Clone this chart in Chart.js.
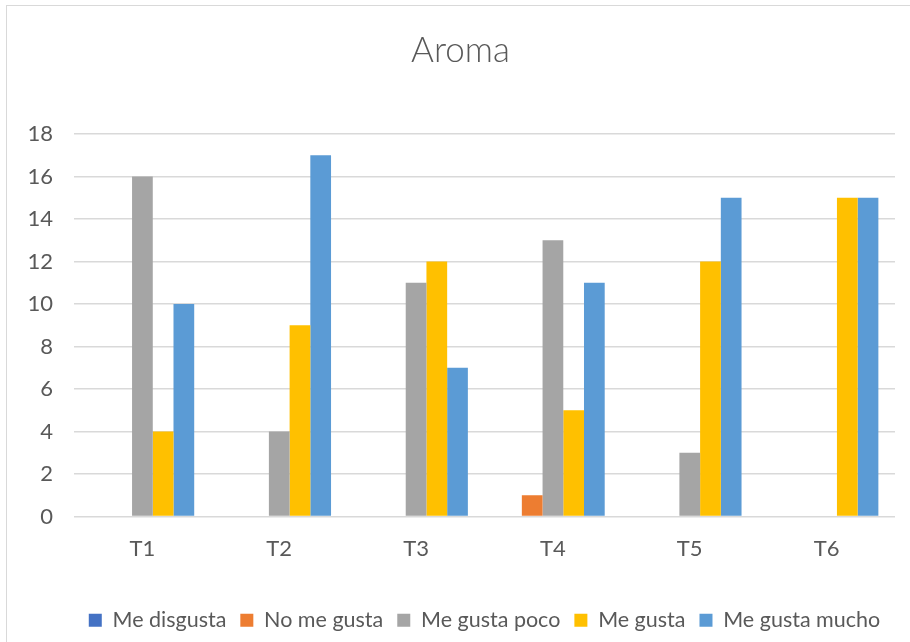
<!DOCTYPE html>
<html>
<head>
<meta charset="utf-8">
<script src="https://cdn.jsdelivr.net/npm/chart.js@4"></script>
<style>
  html, body { margin: 0; padding: 0; background: #ffffff; overflow: hidden; }
  #frame {
    position: absolute; left: 6px; top: 5px;
    width: 914px; height: 640px;
    border: 1px solid #d9d9d9; background: #ffffff;
  }
  #chart { display: block; }
</style>
</head>
<body>
<div id="frame"><canvas id="chart" width="914" height="640"></canvas></div>
<script>
// Sensory panel: aroma ratings per treatment
const categories = ['T1', 'T2', 'T3', 'T4', 'T5', 'T6'];
const seriesNames = ['Me disgusta', 'No me gusta', 'Me gusta poco', 'Me gusta', 'Me gusta mucho'];
const meDisgusta   = [0, 0, 0, 0, 0, 0];
const noMeGusta    = [0, 0, 0, 1, 0, 0];
const meGustaPoco  = [16, 4, 11, 13, 3, 0];
const meGusta      = [4, 9, 12, 5, 12, 15];
const meGustaMucho = [10, 17, 7, 11, 15, 15];
const yTicks = [0, 2, 4, 6, 8, 10, 12, 14, 16, 18];

const seriesValues = [meDisgusta, noMeGusta, meGustaPoco, meGusta, meGustaMucho];
const seriesColors = ['#4472C4', '#ED7D31', '#A5A5A5', '#FFC000', '#5B9BD5'];

const textColor = '#595959';
const gridColor = '#d9d9d9';
const fontFamily = 'Lato, "Open Sans", sans-serif';

new Chart(document.getElementById('chart'), {
  type: 'bar',
  data: {
    labels: categories,
    datasets: seriesNames.map((name, i) => ({
      label: name,
      data: seriesValues[i],
      backgroundColor: seriesColors[i],
      borderWidth: 0,
      categoryPercentage: 0.757,
      barPercentage: 1.0
    }))
  },
  options: {
    responsive: false,
    animation: false,
    layout: { padding: { left: 19, right: 26, top: 0, bottom: 5 } },
    plugins: {
      title: {
        display: true,
        text: 'Aroma',
        color: textColor,
        font: { family: fontFamily, size: 35, weight: '300' },
        padding: { top: 24, bottom: 62 }
      },
      legend: {
        position: 'bottom',
        fullSize: false,
        labels: {
          color: textColor,
          font: { family: fontFamily, size: 21.5 },
          boxWidth: 13,
          boxHeight: 13,
          padding: 14
        }
      },
      tooltip: { enabled: false }
    },
    scales: {
      x: {
        grid: { display: false, drawTicks: false },
        border: { display: false },
        ticks: { color: textColor, font: { family: fontFamily, size: 22 }, padding: 19 },
        afterFit: (scale) => { scale.height = 79; }
      },
      y: {
        min: 0,
        max: 18,
        afterBuildTicks: (scale) => { scale.ticks = yTicks.map(v => ({ value: v })); },
        grid: { color: gridColor, lineWidth: 1.5, drawTicks: false },
        border: { display: false },
        ticks: { color: textColor, font: { family: fontFamily, size: 22 }, padding: 21 },
        afterFit: (scale) => { scale.width = 48; }
      }
    }
  }
});
</script>
</body>
</html>
